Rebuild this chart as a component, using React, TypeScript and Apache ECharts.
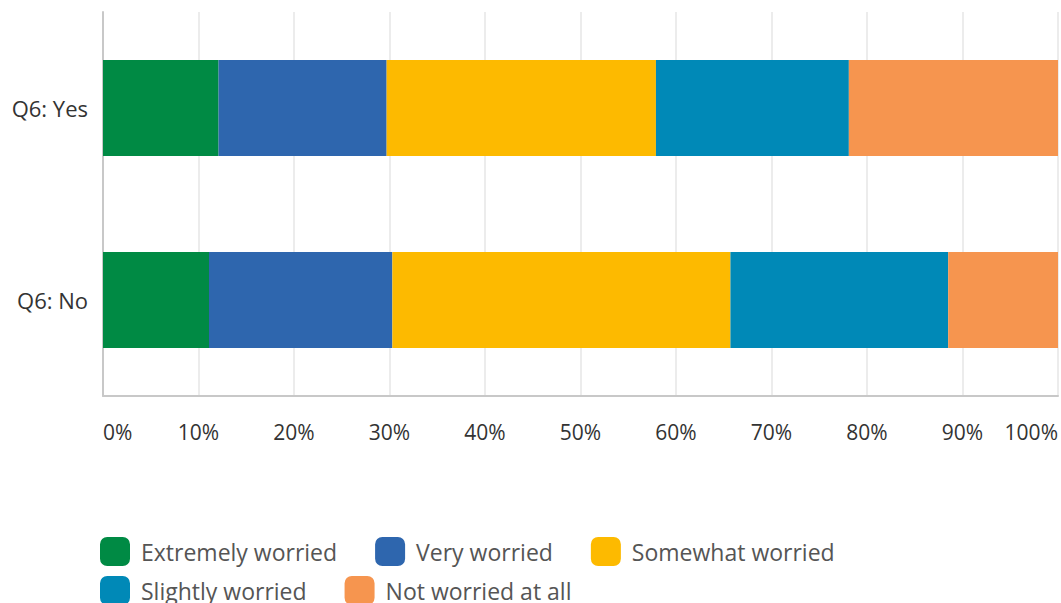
import React, { useEffect, useRef } from "react";
import * as echarts from "echarts";

const categories = ["Q6: Yes", "Q6: No"];
const seriesNames = ["Extremely worried", "Very worried", "Somewhat worried", "Slightly worried", "Not worried at all"];
const extremely = [12.1, 11.1];
const very = [17.6, 19.2];
const somewhat = [28.2, 35.4];
const slightly = [20.2, 22.8];
const notAtAll = [21.9, 11.5];
const colors = ["#008a44", "#2e66ae", "#fdba00", "#0089b7", "#f6954f"];

const FONT = "'Open Sans', sans-serif";

export default function App() {
  const ref = useRef<HTMLDivElement>(null);
  useEffect(() => {
    document.body.style.margin = "0";
    const chart = echarts.init(ref.current!, null, { renderer: "svg" });
    const values = [extremely, very, somewhat, slightly, notAtAll];
    const legendBase = {
      orient: "horizontal",
      icon: "roundRect",
      padding: 0,
      itemWidth: 30,
      itemHeight: 29,
      itemGap: 38,
      textStyle: { fontFamily: FONT, fontSize: 23, color: "#555", padding: [0, 0, 0, 6] },
      selectedMode: false,
    };
    chart.setOption({
      animation: false,
      color: colors,
      textStyle: { fontFamily: FONT },
      grid: { left: 103, right: -2, top: 12, bottom: 207, containLabel: false },
      legend: [
        { ...legendBase, left: 100, top: 537, data: seriesNames.slice(0, 3) },
        { ...legendBase, left: 100, top: 576, data: seriesNames.slice(3) },
      ],
      xAxis: {
        type: "value",
        min: 0,
        max: 100,
        interval: 10,
        axisLine: { show: true, lineStyle: { color: "#c8c8c8", width: 2 } },
        axisTick: { show: false },
        splitLine: { show: true, lineStyle: { color: "#e6e6e6", width: 1.5 } },
        axisLabel: {
          formatter: "{value}%",
          fontFamily: FONT,
          fontSize: 21,
          color: "#333",
          margin: 25,
          alignMinLabel: "left",
          alignMaxLabel: "right",
        },
      },
      yAxis: {
        type: "category",
        inverse: true,
        data: categories,
        axisLine: { show: true, lineStyle: { color: "#c8c8c8", width: 2 } },
        axisTick: { show: false },
        axisLabel: { fontFamily: FONT, fontSize: 22, color: "#333", margin: 15 },
      },
      series: seriesNames.map((name, i) => ({
        name,
        type: "bar",
        stack: "total",
        barWidth: "50%",
        data: values[i],
        itemStyle: { color: colors[i] },
      })),
    });
    return () => chart.dispose();
  }, []);
  return <div ref={ref} style={{ width: 1061, height: 603 }} />;
}
